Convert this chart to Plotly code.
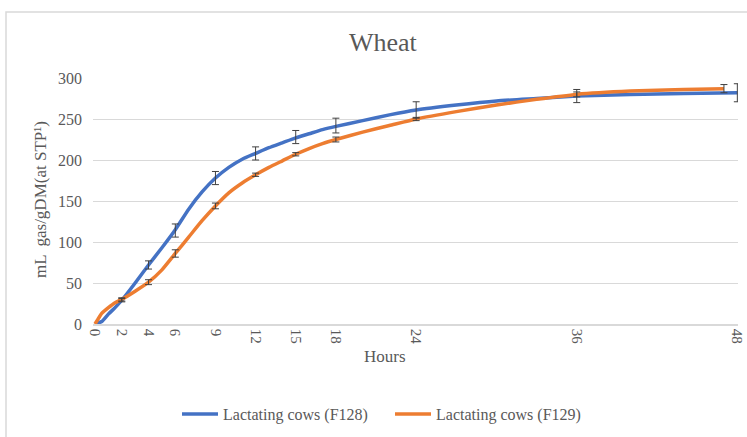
import plotly.graph_objects as go

# Data
hours_f128 = [0, 0.5, 1, 1.5, 2, 3, 4, 5, 6, 7, 8, 9, 10, 11, 12, 13, 14, 15, 16, 17, 18,
              20, 22, 24, 27, 30, 33, 36, 40, 44, 48]
gas_f128 = [0, 3, 12, 20, 29, 50, 72, 93, 115, 140, 161, 178, 191, 201, 208, 215, 221, 227,
            232, 237, 241, 248, 255, 261, 267, 272, 275, 278, 280, 281, 282]

hours_f129 = [0, 0.3, 0.5, 1, 1.5, 2, 3, 4, 5, 6, 7, 8, 9, 10, 11, 12, 13, 14, 15, 16, 17, 18,
              20, 22, 24, 27, 30, 33, 36, 40, 44, 47]
gas_f129 = [0, 8, 13, 20, 26, 30, 40, 51, 66, 86, 106, 126, 144, 160, 172, 182, 191, 199, 207,
            214, 220, 225, 234, 242, 250, 259, 267, 274, 280, 284, 286, 287]

err_hours_f128 = [2, 4, 6, 9, 12, 15, 18, 24, 36, 48]
err_mean_f128 = [29, 72, 114, 178, 208, 228, 242, 261, 278, 282]
err_sd_f128 = [2, 5, 8, 8, 8, 8, 9, 10, 8, 11]

err_hours_f129 = [2, 4, 6, 9, 12, 15, 18, 24, 36, 47]
err_mean_f129 = [30, 51, 86, 144, 182, 207, 225, 250, 280, 287]
err_sd_f129 = [2, 3, 4.5, 3.5, 2, 2, 3, 2, 3, 5]

x_ticks = [0, 2, 4, 6, 9, 12, 15, 18, 24, 36, 48]
y_ticks = [0, 50, 100, 150, 200, 250, 300]

BLUE = "#4472C4"
ORANGE = "#ED7D31"
SERIF = "Liberation Serif, Times New Roman, serif"
GRAY = "#595959"

fig = go.Figure()

fig.add_trace(go.Scatter(x=hours_f128, y=gas_f128, mode="lines", name="Lactating cows (F128)",
                         line=dict(color=BLUE, width=3.5, shape="spline", smoothing=0.5)))
fig.add_trace(go.Scatter(x=hours_f129, y=gas_f129, mode="lines", name="Lactating cows (F129)",
                         line=dict(color=ORANGE, width=3.5, shape="spline", smoothing=0.5)))

for xs, ys, sd in [(err_hours_f128, err_mean_f128, err_sd_f128),
                   (err_hours_f129, err_mean_f129, err_sd_f129)]:
    fig.add_trace(go.Scatter(x=xs, y=ys, mode="markers", showlegend=False, hoverinfo="skip",
                             marker=dict(size=1, opacity=0), cliponaxis=False,
                             error_y=dict(type="data", array=sd, visible=True,
                                          color="#404040", thickness=1, width=3.5)))

fig.update_layout(
    width=747, height=437,
    margin=dict(l=93, r=9, t=78, b=113, autoexpand=False),
    paper_bgcolor="white", plot_bgcolor="white",
    font=dict(family=SERIF, color=GRAY, size=15),
    showlegend=True,
    legend=dict(orientation="h", x=(177 - 93) / 645, xanchor="left", y=-0.366,
                yanchor="middle", font=dict(family=SERIF, size=16, color=GRAY),
                itemwidth=36, entrywidth=162, entrywidthmode="pixels",
                traceorder="normal"),
    xaxis=dict(range=[-0.15, 48.05], tickmode="array", tickvals=x_ticks,
               ticktext=[str(v) for v in x_ticks], tickangle=90, showgrid=False,
               zeroline=False, showline=True, linecolor="#d9d9d9", linewidth=1.5,
               ticks="", automargin=False,
               tickfont=dict(family=SERIF, size=15, color=GRAY)),
    yaxis=dict(range=[0, 300], tickmode="array", tickvals=y_ticks, showgrid=True,
               gridcolor="#d9d9d9", gridwidth=1, zeroline=False, showline=False,
               ticks="", ticklabelstandoff=10, automargin=False,
               tickfont=dict(family=SERIF, size=16, color=GRAY)),
    shapes=[dict(type="rect", xref="paper", yref="paper",
                 x0=-87/645, x1=1.2, y0=-0.6, y1=(324-12)/246,
                 line=dict(color="#d9d9d9", width=1.5), fillcolor="rgba(0,0,0,0)",
                 layer="below")],
    annotations=[
        dict(text="Wheat", xref="paper", yref="paper", x=(383-93)/645, y=(324-42)/246,
             xanchor="center", yanchor="middle", showarrow=False,
             font=dict(family=SERIF, size=26, color=GRAY)),
        dict(text="Hours", xref="paper", yref="paper", x=(385-93)/645, y=(324-356)/246,
             xanchor="center", yanchor="middle", showarrow=False,
             font=dict(family=SERIF, size=17, color=GRAY)),
        dict(text="mL  gas/gDM(at STP¹)", xref="paper", yref="paper", x=(40-93)/645,
             y=(324-200)/246, xanchor="center", yanchor="middle", textangle=-90,
             showarrow=False, font=dict(family=SERIF, size=17, color=GRAY)),
    ],
)

fig.write_html("out.html", post_script="document.body.style.margin='0';",
               config={"displayModeBar": False})
